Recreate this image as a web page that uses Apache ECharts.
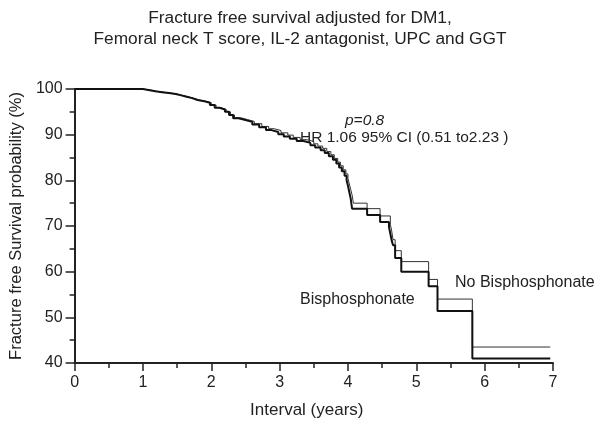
<!DOCTYPE html>
<html>
<head>
<meta charset="utf-8">
<script src="https://cdn.jsdelivr.net/npm/echarts@6/dist/echarts.min.js"></script>
<style>html,body{margin:0;padding:0;background:#fff}#c{width:600px;height:430px}</style>
</head>
<body>
<div id="c"></div>
<script>
// Bisphosphonate (thick line): [time in years, survival %]
const bisphTimes = [0,1.0,1.08,1.18,1.28,1.38,1.48,1.56,1.64,1.72,1.8,1.9,1.98,2.05,2.12,2.2,2.26,2.32,2.4,2.5,2.6,2.7,2.8,2.88,2.98,3.06,3.15,3.25,3.35,3.45,3.52,3.6,3.66,3.72,3.78,3.83,3.87,3.91,3.95,3.98,4.0,4.02,4.04,4.06,4.28,4.47,4.60,4.62,4.64,4.66,4.69,4.78,5.18,5.31,5.82,6.96];
const bisphValues = [100,99.8,99.5,99.3,99.1,98.9,98.6,98.3,98.0,97.6,97.3,97.0,96.5,95.9,95.5,95.0,94.3,93.6,93.2,92.8,92.2,91.6,91.0,90.6,90.1,89.6,89.1,88.6,88.2,87.7,87.2,86.6,86.0,85.3,84.5,83.7,82.8,82.0,81.0,80.0,78.8,77.4,76.0,73.8,72.4,70.9,69.8,68.3,66.8,65.8,63.0,60.0,56.8,51.4,41.0,41.0];
// No Bisphosphonate (thin line)
const noBisphTimes = [0,1.0,1.1,1.2,1.3,1.4,1.5,1.58,1.66,1.74,1.82,1.92,2.0,2.07,2.14,2.22,2.28,2.34,2.43,2.53,2.63,2.74,2.84,2.92,3.02,3.12,3.2,3.3,3.4,3.5,3.56,3.63,3.69,3.75,3.8,3.85,3.89,3.93,3.97,4.0,4.02,4.04,4.06,4.08,4.28,4.47,4.62,4.64,4.66,4.69,4.78,5.18,5.31,5.82,6.96];
const noBisphValues = [100,99.8,99.5,99.3,99.1,98.9,98.6,98.3,98.0,97.6,97.3,97.0,96.5,95.9,95.5,95.0,94.3,93.7,93.3,92.9,92.4,91.8,91.3,90.9,90.4,89.9,89.4,88.9,88.5,88.0,87.5,87.0,86.3,85.6,84.8,84.0,83.2,82.3,81.4,80.4,79.2,78.0,76.8,75.0,73.8,72.2,70.4,68.9,67.0,64.6,62.2,58.3,54.0,43.5,43.5];
const xTicks = [0,1,2,3,4,5,6,7];
const yTicks = [40,50,60,70,80,90,100];

const FONT = 'Liberation Sans, Arial, sans-serif';
const zip = (a, b) => a.map((t, i) => [t, b[i]]);
const chart = echarts.init(document.getElementById('c'));
chart.setOption({
  animation: false,
  backgroundColor: '#fff',
  title: {
    text: 'Fracture free survival adjusted for DM1,\nFemoral neck T score, IL-2 antagonist, UPC and GGT',
    left: 'center', top: 3,
    textStyle: {fontFamily: FONT, fontSize: 17.3, fontWeight: 'normal', color: '#222', lineHeight: 21}
  },
  grid: {left: 73, right: 47, top: 89, bottom: 67},
  xAxis: {
    type: 'value', min: xTicks[0], max: xTicks[xTicks.length-1], interval: 1,
    name: 'Interval (years)', nameLocation: 'middle', nameGap: 39,
    nameTextStyle: {fontFamily: FONT, fontSize: 17, color: '#222', padding: [0, 14, 0, 0]},
    axisLine: {lineStyle: {color: '#222', width: 2}},
    axisTick: {show: true, inside: false, length: 8, lineStyle: {color: '#222', width: 1.5}},
    minorTick: {show: true, splitNumber: 2, length: 5, lineStyle: {color: '#222', width: 1.5}},
    axisLabel: {fontFamily: FONT, fontSize: 16, color: '#222', margin: 12},
    splitLine: {show: false}
  },
  yAxis: {
    type: 'value', min: yTicks[0], max: yTicks[yTicks.length-1], interval: 10,
    name: 'Fracture free Survival probability (%)', nameLocation: 'middle', nameGap: 39,
    nameTextStyle: {fontFamily: FONT, fontSize: 16.5, color: '#222'},
    axisLine: {show: true, lineStyle: {color: '#222', width: 2}},
    axisTick: {show: true, inside: false, length: 9, lineStyle: {color: '#222', width: 1.5}},
    minorTick: {show: true, splitNumber: 2, length: 5, lineStyle: {color: '#222', width: 1.5}},
    axisLabel: {fontFamily: FONT, fontSize: 16, color: '#222', margin: 12},
    splitLine: {show: false}
  },
  series: [
    {name: 'No Bisphosphonate', type: 'line', step: 'end', symbol: 'none',
     data: zip(noBisphTimes, noBisphValues), lineStyle: {color: '#333', width: 1}},
    {name: 'Bisphosphonate', type: 'line', step: 'end', symbol: 'none',
     data: zip(bisphTimes, bisphValues), lineStyle: {color: '#111', width: 2}}
  ],
  graphic: [
    {type: 'text', left: 345, top: 113, style: {text: 'p=0.8', font: 'italic 15.5px ' + FONT, fill: '#222'}},
    {type: 'text', left: 300, top: 130, style: {text: 'HR 1.06 95% CI (0.51 to2.23 )', font: '15.5px ' + FONT, fill: '#222'}},
    {type: 'text', left: 455, top: 275, style: {text: 'No Bisphosphonate', font: '16px ' + FONT, fill: '#222'}},
    {type: 'text', left: 300, top: 292, style: {text: 'Bisphosphonate', font: '16px ' + FONT, fill: '#222'}}
  ]
});
</script>
</body>
</html>
